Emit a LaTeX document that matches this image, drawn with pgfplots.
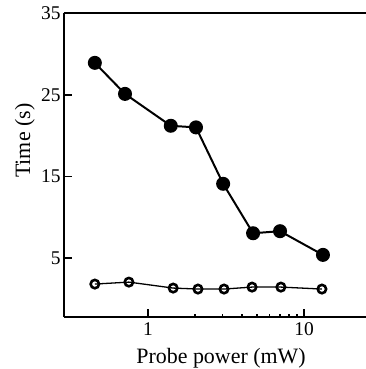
\documentclass[border=0pt]{standalone}
\usepackage{pgfplots}
\pgfplotsset{compat=1.18}
\usepackage{fontspec}
\setmainfont{Liberation Serif}
\begin{document}
\begin{tikzpicture}
\path[use as bounding box] (-64bp,-52bp) rectangle (302bp,317bp);
\begin{axis}[
  scale only axis,
  width=302bp, height=304bp,
  xmode=log,
  xmin=0.29, xmax=24.9,
  ymin=-2.2, ymax=35,
  axis lines=left,
  axis line style={line width=2pt,-},
  xtick={1,10}, xticklabels={1,10},
  ytick={5,15,25,35},
  minor xtick={}, minor ytick={},
  tick align=inside,
  major tick length=8bp,
  tick style={line width=1.6pt,black},
  /pgf/number format/assume math mode=true,
  ticklabel style={font=\fontsize{19.5}{22}\selectfont},
  xticklabel style={yshift=-2bp},
  xlabel={Probe power (mW)},
  ylabel={Time (s)},
  label style={font=\fontsize{22}{26}\selectfont},
  xlabel style={at={(axis description cs:0.52,-0.135)}, anchor=center},
  ylabel style={at={(axis description cs:-0.13,0.58)}, anchor=center},
  clip=false,
]
\draw[line width=2pt] (rel axis cs:0,1) -- (rel axis cs:1.05,1);
\addplot[black, line width=2pt, mark=*, mark size=6bp, mark options={fill=black}]
  coordinates {(0.457,28.9) (0.713,25.1) (1.40,21.2) (2.03,21.0) (3.03,14.1) (4.71,8.05) (7.01,8.3) (13.2,5.4)};
\addplot[black, line width=1.3pt, mark=o, mark size=4.2bp, mark options={line width=2.6pt, fill=white}]
  coordinates {(0.457,1.83) (0.755,2.07) (1.45,1.34) (2.09,1.22) (3.07,1.22) (4.64,1.46) (7.1,1.46) (13.0,1.22)};
\end{axis}
\end{tikzpicture}
\end{document}
